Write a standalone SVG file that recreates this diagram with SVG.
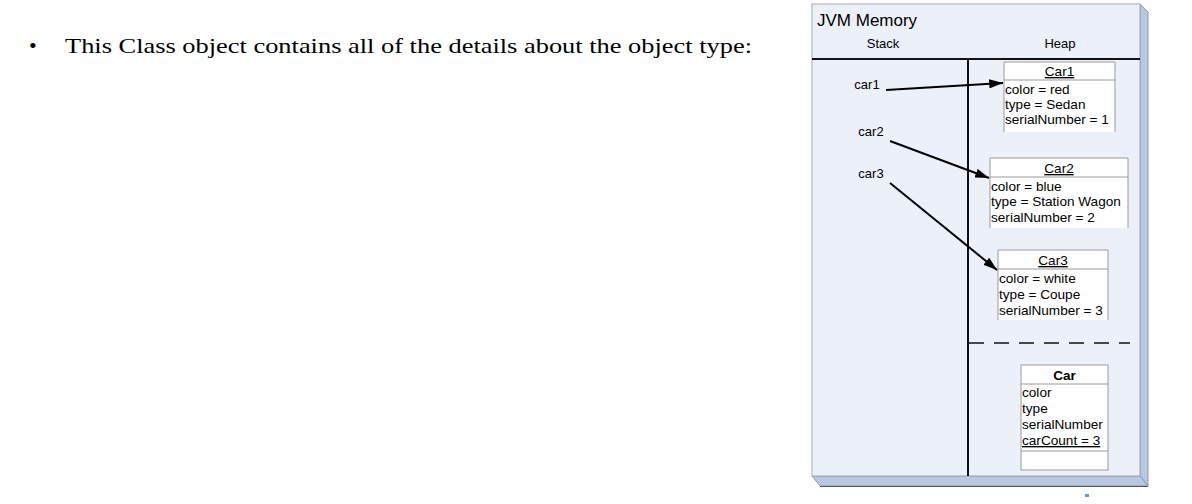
<svg xmlns="http://www.w3.org/2000/svg" width="1192" height="504" viewBox="0 0 1192 504">
<style>
.sans{font-family:"Liberation Sans",Arial,sans-serif;fill:#000}
.lbl{font-size:13px}
.attr{font-size:13.6px}
.box{fill:#fff;stroke:#9a9a9a;stroke-width:1}
.sep{stroke:#9a9a9a;stroke-width:1}
.conn{stroke:#000;stroke-width:2;fill:none;marker-end:url(#ah)}
</style>
<defs>
<marker id="ah" viewBox="0 0 12 8" refX="12" refY="4" markerWidth="7" markerHeight="4.6" orient="auto" markerUnits="strokeWidth">
<path d="M0,0 L12,4 L0,8 z" fill="#000"/>
</marker>
</defs>
<rect width="1192" height="504" fill="#fff"/>
<g id="bullet">
<text x="29" y="53" font-family="'Liberation Serif',serif" font-size="22" fill="#000">•</text>
<text x="65" y="53" font-family="'Liberation Serif',serif" font-size="22" fill="#000" textLength="687" lengthAdjust="spacingAndGlyphs">This Class object contains all of the details about the object type:</text>
</g>
<g id="jvm-panel">
<polygon points="1140,4 1148,12 1148,486 1140,476" fill="#b8c8e3" stroke="#8a9ab5" stroke-width="1"/>
<polygon points="812,476 1140,476 1148,486 820,486" fill="#b8c8e3" stroke="#8a9ab5" stroke-width="1"/>
<line x1="820" y1="486.5" x2="1148" y2="486.5" stroke="#555" stroke-width="1"/>
<rect x="812" y="4" width="328" height="472" fill="#ebf0f9" stroke="#a8a8a8" stroke-width="1"/>
<text class="sans" x="817" y="26" font-size="17">JVM Memory</text>
<text class="sans lbl" x="883" y="48" text-anchor="middle">Stack</text>
<text class="sans lbl" x="1060" y="48" text-anchor="middle">Heap</text>
<line x1="812" y1="59" x2="1140" y2="59" stroke="#111" stroke-width="2"/>
<line x1="968" y1="59" x2="968" y2="476" stroke="#111" stroke-width="2"/>
<line x1="969" y1="343" x2="1130" y2="343" stroke="#111" stroke-width="1.5" stroke-dasharray="15,10"/>
</g>
<g id="stack-vars">
<text class="sans lbl" x="867" y="89" text-anchor="middle">car1</text>
<text class="sans lbl" x="871" y="136" text-anchor="middle">car2</text>
<text class="sans lbl" x="871" y="178" text-anchor="middle">car3</text>
</g>
<g id="car1">
<path class="box" d="M1004,132 V62 H1115 V132"/>
<line class="sep" x1="1004" y1="80" x2="1115" y2="80"/>
<text class="sans attr" x="1059.5" y="76" text-anchor="middle" text-decoration="underline">Car1</text>
<text class="sans attr" x="1005" y="94">color = red</text>
<text class="sans attr" x="1005" y="109">type = Sedan</text>
<text class="sans attr" x="1005" y="124">serialNumber = 1</text>
</g>
<g id="car2">
<path class="box" d="M990,228 V158 H1128 V228"/>
<line class="sep" x1="990" y1="177" x2="1128" y2="177"/>
<text class="sans attr" x="1059" y="173" text-anchor="middle" text-decoration="underline">Car2</text>
<text class="sans attr" x="991" y="191">color = blue</text>
<text class="sans attr" x="991" y="206">type = Station Wagon</text>
<text class="sans attr" x="991" y="222">serialNumber = 2</text>
</g>
<g id="car3">
<path class="box" d="M998,320 V250 H1108 V320"/>
<line class="sep" x1="998" y1="269" x2="1108" y2="269"/>
<text class="sans attr" x="1053" y="265" text-anchor="middle" text-decoration="underline">Car3</text>
<text class="sans attr" x="999" y="283">color = white</text>
<text class="sans attr" x="999" y="299">type = Coupe</text>
<text class="sans attr" x="999" y="315">serialNumber = 3</text>
</g>
<g id="car-class">
<rect class="box" x="1021" y="365" width="87" height="105"/>
<line class="sep" x1="1021" y1="384" x2="1108" y2="384"/>
<line class="sep" x1="1021" y1="451" x2="1108" y2="451"/>
<text class="sans attr" x="1064.5" y="380" text-anchor="middle" font-weight="bold">Car</text>
<text class="sans attr" x="1022" y="397">color</text>
<text class="sans attr" x="1022" y="413">type</text>
<text class="sans attr" x="1022" y="429">serialNumber</text>
<text class="sans attr" x="1022" y="445" text-decoration="underline">carCount = 3</text>
</g>
<g id="connectors">
<line class="conn" x1="886" y1="90" x2="1003" y2="83"/>
<line class="conn" x1="890" y1="141" x2="989" y2="178"/>
<line class="conn" x1="890" y1="183" x2="997" y2="270"/>
</g>
<g id="logo-fragment">
<rect x="1085" y="494" width="4" height="3" fill="#6f95c9"/>
</g>
</svg>
